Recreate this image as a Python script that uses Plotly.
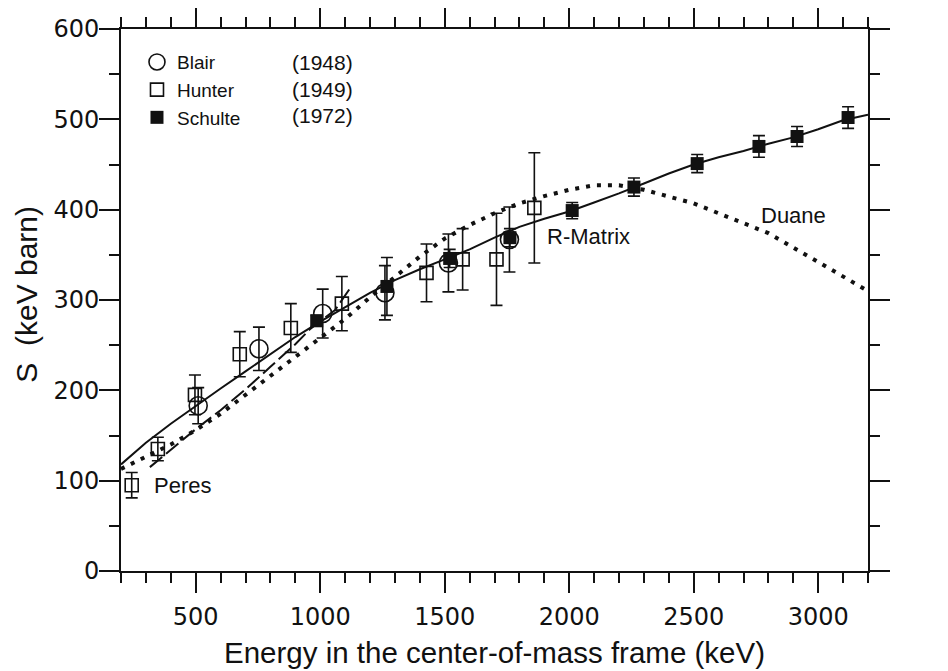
import plotly.graph_objects as go

# ---------------- data ----------------
blair_E = [510, 754, 1010, 1260, 1515, 1760]
blair_S = [183, 246, 285, 308, 341, 367]
blair_err = [20, 24, 27, 30, 32, 36]

hunter_E = [243, 348, 497, 677, 882, 1087, 1427, 1572, 1708, 1860]
hunter_S = [95, 135, 195, 240, 269, 296, 330, 345, 345, 402]
hunter_err = [14, 13, 22, 25, 27, 30, 32, 34, 51, 61]

schulte_E = [986, 1268, 1520, 1762, 2012, 2260, 2514, 2762, 2915, 3120]
schulte_S = [277, 315, 346, 369, 399, 425, 451, 470, 481, 502]
schulte_err = [6, 32, 10, 10, 9, 10, 10, 12, 11, 12]

rmatrix_E = [200, 300, 400, 500, 600, 700, 800, 900, 1000, 1100, 1200, 1300, 1400, 1500,
             1600, 1700, 1800, 1900, 2000, 2100, 2200, 2300, 2400, 2500, 2600, 2700, 2800,
             2900, 3000, 3100, 3200]
rmatrix_S = [118, 142, 163, 183, 202, 221, 240, 259, 276, 292, 308, 322, 334, 345,
             356, 369, 381, 390, 398, 408, 418, 429, 440, 450, 458, 465, 473,
             480, 489, 499, 505]

duane_E = [200, 300, 400, 500, 600, 700, 800, 900, 1000, 1100, 1200, 1300, 1400, 1500,
           1600, 1700, 1800, 1900, 2000, 2100, 2200, 2300, 2400, 2500, 2600, 2700, 2800,
           2900, 3000, 3100, 3200]
duane_S = [113, 126, 140, 156, 174, 195, 216, 237, 257, 279, 303, 326, 348, 368,
           383, 396, 407, 415, 422, 427, 427, 422, 415, 407, 396, 385, 374,
           358, 342, 326, 310]

peres_E = [316, 400, 500, 600, 700, 800, 900, 960, 1000, 1060, 1120]
peres_S = [115, 134, 157, 178, 201, 226, 251, 268, 276, 289, 313]

legend_names = ["Blair", "Hunter", "Schulte"]
legend_years = ["(1948)", "(1949)", "(1972)"]
year_E = [878, 878, 878]
year_S = [563, 533, 504]

curve_labels = ["Peres", "R-Matrix", "Duane"]
curve_label_E = [324, 1901, 2763]
curve_label_S = [95, 370, 393]

x_range = [200, 3200]
y_range = [0, 600]

# ---------------- figure ----------------
INK = "#111111"
TXT = "Liberation Sans, Arial, sans-serif"
TICKF = "DejaVu Sans, sans-serif"

fig = go.Figure()

fig.add_trace(go.Scatter(x=rmatrix_E, y=rmatrix_S, mode="lines",
                         line=dict(color=INK, width=2), showlegend=False, hoverinfo="skip"))
fig.add_trace(go.Scatter(x=peres_E, y=peres_S, mode="lines",
                         line=dict(color=INK, width=2, dash="16px,5px"), showlegend=False, hoverinfo="skip"))
fig.add_trace(go.Scatter(x=duane_E, y=duane_S, mode="lines",
                         line=dict(color=INK, width=4, dash="4px,7px"), showlegend=False, hoverinfo="skip"))

err_style = dict(type="data", color=INK, thickness=1.6, width=6)

fig.add_trace(go.Scatter(x=blair_E, y=blair_S, mode="markers", name=legend_names[0],
                         marker=dict(symbol="circle-open", size=18, color=INK, line=dict(width=1.6)),
                         error_y=dict(array=blair_err, **err_style)))
fig.add_trace(go.Scatter(x=hunter_E, y=hunter_S, mode="markers", name=legend_names[1],
                         marker=dict(symbol="square-open", size=13, color=INK, line=dict(width=1.6)),
                         error_y=dict(array=hunter_err, **err_style)))
fig.add_trace(go.Scatter(x=schulte_E, y=schulte_S, mode="markers", name=legend_names[2],
                         marker=dict(symbol="square", size=13, color=INK, line=dict(width=0)),
                         error_y=dict(array=schulte_err, **err_style)))

annotations = []
for t, e, s in zip(legend_years, year_E, year_S):
    annotations.append(dict(x=e, y=s, xref="x", yref="y", text=t, showarrow=False,
                            xanchor="left", yanchor="middle",
                            font=dict(family=TXT, size=21, color=INK)))
for t, e, s in zip(curve_labels, curve_label_E, curve_label_S):
    annotations.append(dict(x=e, y=s, xref="x", yref="y", text=t, showarrow=False,
                            xanchor="left", yanchor="middle",
                            font=dict(family=TXT, size=22, color=INK)))
# y-axis title
annotations.append(dict(x=-0.127, y=0.51, xref="paper", yref="paper", text="S  (keV barn)",
                        showarrow=False, textangle=-90, xanchor="center", yanchor="middle",
                        font=dict(family=TXT, size=30, color=INK)))

axis_common = dict(showline=True, linecolor=INK, linewidth=2, mirror="ticks",
                   ticks="outside", ticklen=20, tickwidth=2, tickcolor=INK,
                   showgrid=False, zeroline=False, automargin=False,
                   tickfont=dict(family=TICKF, size=24, color=INK))

# the page body adds an 8 px offset, so margins are shifted to compensate
fig.update_layout(
    width=948, height=671,
    margin=dict(l=113, r=88, t=21, b=108),
    paper_bgcolor="white", plot_bgcolor="white",
    xaxis=dict(range=x_range, tick0=0, dtick=500, **axis_common, ticklabelstandoff=3,
               minor=dict(dtick=100, tick0=0, ticklen=10, tickwidth=2, tickcolor=INK, ticks="outside"),
               title=dict(text="Energy in the center-of-mass frame (keV)",
                          font=dict(family=TXT, size=29.5, color=INK), standoff=13)),
    yaxis=dict(range=y_range, tick0=0, dtick=100, **axis_common, ticklabelstandoff=-5,
               minor=dict(dtick=50, tick0=0, ticklen=10, tickwidth=2, tickcolor=INK, ticks="outside")),
    legend=dict(x=0.0214, y=0.974, xanchor="left", yanchor="top",
                bgcolor="rgba(0,0,0,0)", font=dict(family=TXT, size=19, color=INK),
                tracegroupgap=0, itemwidth=30),
    annotations=annotations,
    showlegend=True,
)

fig.write_html("out.html")
